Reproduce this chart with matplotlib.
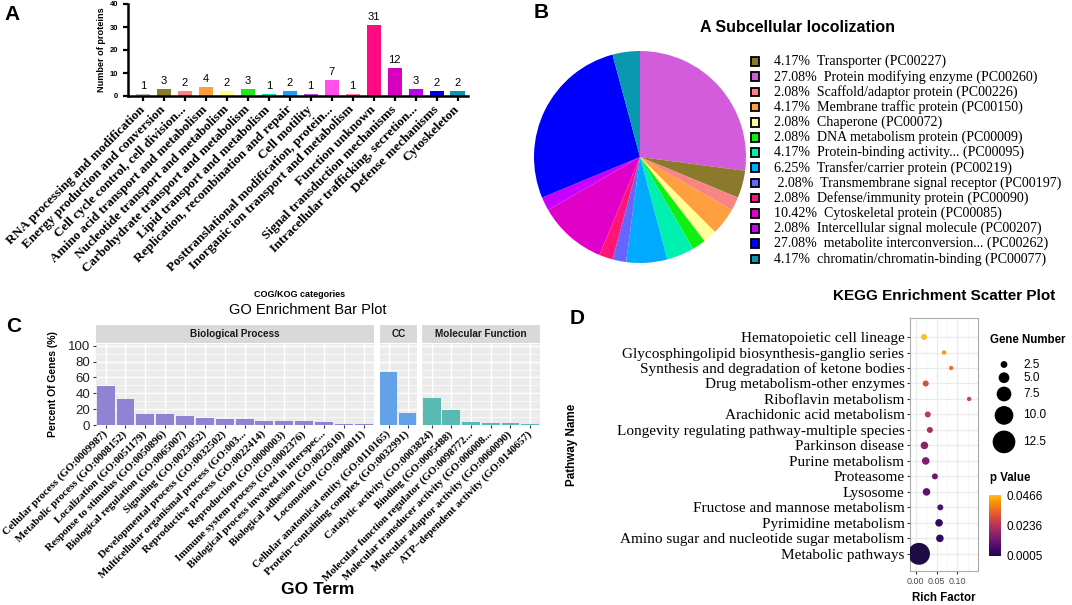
import matplotlib
matplotlib.use("Agg")
import matplotlib.pyplot as plt
import numpy as np
from matplotlib.patches import Rectangle
from matplotlib.colors import ListedColormap, Normalize
from matplotlib.cm import ScalarMappable

SANS = "Liberation Sans"
SERIF = "Liberation Serif"

# ---- panel A: COG/KOG categories ----
cog_names = ["RNA processing and modification", "Energy production and conversion",
             "Cell cycle control, cell division...", "Amino acid transport and metabolism",
             "Nucleotide transport and metabolism", "Carbohydrate transport and metabolism",
             "Lipid transport and metabolism", "Replication, recombination and repair",
             "Cell motility", "Posttranslational modification, protein...",
             "Inorganic ion transport and metabolism", "Function unknown",
             "Signal transduction mechanisms", "Intracellular trafficking, secretion...",
             "Defense mechanisms", "Cytoskeleton"]
cog_counts = [1, 3, 2, 4, 2, 3, 1, 2, 1, 7, 1, 31, 12, 3, 2, 2]
cog_colors = ["#B4B4B4", "#8C7A2C", "#F88484", "#FFA040", "#FFFF90", "#20E820",
              "#00E8A8", "#1AA0F8", "#B848D8", "#FF50E8", "#FF8090", "#FF0A80",
              "#D800C0", "#C000F0", "#0000E8", "#0898B0"]

# ---- panel B: protein classes (legend order) ----
pc_names = ["Transporter (PC00227)", "Protein modifying enzyme (PC00260)",
            "Scaffold/adaptor protein (PC00226)", "Membrane traffic protein (PC00150)",
            "Chaperone (PC00072)", "DNA metabolism protein (PC00009)",
            "Protein-binding activity... (PC00095)", "Transfer/carrier protein (PC00219)",
            "Transmembrane signal receptor (PC00197)", "Defense/immunity protein (PC00090)",
            "Cytoskeletal protein (PC00085)", "Intercellular signal molecule (PC00207)",
            "metabolite interconversion... (PC00262)", "chromatin/chromatin-binding (PC00077)"]
pc_pct = [4.17, 27.08, 2.08, 4.17, 2.08, 2.08, 4.17, 6.25, 2.08, 2.08, 10.42, 2.08, 27.08, 4.17]
pc_colors = ["#8C7A2C", "#D25CDC", "#F88484", "#FFA040", "#FFFF99", "#10F010", "#00F0B0",
             "#00AAFF", "#6666FF", "#FF1478", "#E000C8", "#C800FF", "#0000FF", "#0898B0"]
pie_order = [1, 0, 2, 3, 4, 5, 6, 7, 8, 9, 10, 11, 12, 13]

# ---- panel C: GO enrichment ----
bp_terms = ["Cellular process (GO:0009987)", "Metabolic process (GO:0008152)",
            "Localization (GO:0051179)", "Response to stimulus (GO:0050896)",
            "Biological regulation (GO:0065007)", "Signaling (GO:0023052)",
            "Developmental process (GO:0032502)", "Multicellular organismal process (GO:003...",
            "Reproductive process (GO:0022414)", "Reproduction (GO:0000003)",
            "Immune system process (GO:0002376)", "Biological process involved in interspec...",
            "Biological adhesion (GO:0022610)", "Locomotion (GO:0040011)"]
bp_pct = [49, 32.5, 14, 14, 11, 8.5, 7, 7, 5.5, 5.5, 5.5, 4, 1.5, 1.5]
cc_terms = ["Cellular anatomical entity (GO:0110165)", "Protein\u2212containing complex (GO:0032991)"]
cc_pct = [67.5, 15.5]
mf_terms = ["Catalytic activity (GO:0003824)", "Binding (GO:0005488)",
            "Molecular function regulator (GO:0098772...", "Molecular transducer activity (GO:006008...",
            "Molecular adaptor activity (GO:0060090)", "ATP\u2212dependent activity (GO:0140657)"]
mf_pct = [33.5, 19.5, 4, 2.5, 2.5, 1.5]

# ---- panel D: KEGG enrichment ----
kegg_names = ["Hematopoietic cell lineage", "Glycosphingolipid biosynthesis-ganglio series",
              "Synthesis and degradation of ketone bodies", "Drug metabolism-other enzymes",
              "Riboflavin metabolism", "Arachidonic acid metabolism",
              "Longevity regulating pathway-multiple species", "Parkinson disease",
              "Purine metabolism", "Proteasome", "Lysosome", "Fructose and mannose metabolism",
              "Pyrimidine metabolism", "Amino sugar and nucleotide sugar metabolism",
              "Metabolic pathways"]
rich_factor = [0.020, 0.068, 0.085, 0.024, 0.128, 0.029, 0.034, 0.021, 0.024, 0.046,
               0.026, 0.059, 0.056, 0.058, 0.008]
gene_number = [2, 1, 1, 2, 1, 2, 2, 3, 3, 2, 3, 2, 3, 3, 12]
p_value = [0.0466, 0.042, 0.036, 0.030, 0.028, 0.025, 0.022, 0.017, 0.015, 0.012,
           0.010, 0.008, 0.004, 0.003, 0.0005]
size_breaks = [2.5, 5.0, 7.5, 10.0, 12.5]

W, H = 1072, 605
fig = plt.figure(figsize=(W / 100, H / 100), dpi=100)


def box(l, t, r, b):
    return [l / W, 1 - b / H, (r - l) / W, (b - t) / H]


def ftext(x, y, s, **kw):
    return fig.text(x / W, 1 - y / H, s, **kw)


# ================= A =================
axA = fig.add_axes(box(128, 4, 468, 96))
xa = np.arange(len(cog_names))
axA.bar(xa, cog_counts, width=0.67, color=cog_colors)
for xi, v in zip(xa, cog_counts):
    axA.text(xi, v + 1.3, str(v), ha="center", va="bottom", fontsize=8, family=SANS)
axA.set_xlim(-0.71, 15.5)
axA.set_ylim(0, 40)
axA.spines[["top", "right"]].set_visible(False)
axA.spines[["left", "bottom"]].set_linewidth(1.8)
axA.set_yticks([0, 10, 20, 30, 40])
axA.set_yticklabels(["0", "10", "20", "30", "40"], fontsize=5.5, fontweight="bold", family=SANS)
axA.set_xticks(xa)
axA.set_xticklabels(cog_names, rotation=45, ha="right", va="center", rotation_mode="anchor",
                    fontsize=9.5, fontweight="bold", family=SERIF)
axA.tick_params(width=1.6, length=3.5)
axA.tick_params(axis="x", pad=5)
axA.set_ylabel("Number of proteins", fontsize=6.6, fontweight="bold", family=SANS, labelpad=3)
ftext(300, 295, "COG/KOG categories", ha="center", va="center", fontsize=6.5,
      fontweight="bold", family=SANS)
ftext(4, 14, "A", ha="left", va="center", fontsize=15, fontweight="bold", family=SANS)

# ================= B =================
axB = fig.add_axes(box(534, 51, 746, 263))
axB.pie([pc_pct[i] for i in pie_order], colors=[pc_colors[i] for i in pie_order],
        startangle=90, counterclock=False, radius=1, wedgeprops=dict(linewidth=0))
axB.set_xlim(-1, 1)
axB.set_ylim(-1, 1)
axB.set_aspect("equal")
for i, (name, pct, col) in enumerate(zip(pc_names, pc_pct, pc_colors)):
    yy = 61.5 + i * 15.18
    fig.add_artist(Rectangle((750.7 / W, 1 - (yy + 4.3) / H), 8.6 / W, 8.6 / H,
                             transform=fig.transFigure, facecolor=col, edgecolor="black", lw=1.3))
    lead = " " if name.startswith("Transmembrane") else ""
    ftext(773.7, yy, f"{lead}{pct:.2f}%  {name}", ha="left", va="center", fontsize=10.1, family=SERIF)
ftext(797, 28, "A Subcellular locolization", ha="center", va="center", fontsize=11.5,
      fontweight="bold", family=SANS)
ftext(534, 12, "B", ha="left", va="center", fontsize=15, fontweight="bold", family=SANS)

# ================= C =================
facets = [("Biological Process", bp_terms, bp_pct, "#9183D4", 95.7, 373.6),
          ("CC", cc_terms, cc_pct, "#64A2E8", 379.5, 417.0),
          ("Molecular Function", mf_terms, mf_pct, "#58BAB2", 421.8, 540.0)]
for k, (strip, terms, vals, col, l, r) in enumerate(facets):
    ax = fig.add_axes(box(l, 344, r, 425))
    ax.set_facecolor("#EBEBEB")
    xs = np.arange(len(terms))
    ax.bar(xs, vals, width=0.9, color=col, zorder=3)
    ax.set_xlim(-0.5, len(terms) - 0.5)
    ax.set_ylim(0, 102.3)
    ax.set_yticks([0, 20, 40, 60, 80, 100])
    ax.set_yticks([10, 30, 50, 70, 90], minor=True)
    ax.set_axisbelow(True)
    ax.grid(which="major", color="white", lw=1.0)
    ax.grid(which="minor", axis="y", color="white", lw=0.5)
    for sp in ax.spines.values():
        sp.set_visible(False)
    ax.set_xticks(xs)
    ax.set_xticklabels(terms, rotation=45, ha="right", va="center", rotation_mode="anchor",
                       fontsize=7.8, fontweight="bold", family=SERIF)
    ax.tick_params(axis="x", length=2.5, color="#333333", pad=3)
    ax.tick_params(axis="y", which="minor", length=0)
    if k == 0:
        ax.tick_params(axis="y", length=2.5, color="#333333", labelsize=9.5, pad=1.5)
        for t in ax.get_yticklabels():
            t.set_family(SANS)
            t.set_color("#222222")
    else:
        ax.tick_params(axis="y", length=0, labelleft=False)
    sax = fig.add_axes(box(l, 325, r, 343))
    sax.set_facecolor("#D9D9D9")
    sax.set_xticks([])
    sax.set_yticks([])
    for sp in sax.spines.values():
        sp.set_visible(False)
    sax.text(0.5, 0.5, strip, transform=sax.transAxes, ha="center", va="center",
             fontsize=7.2, fontweight="bold", family=SANS, color="#1A1A1A")
ftext(308, 309.5, "GO Enrichment Bar Plot", ha="center", va="center", fontsize=10.5, family=SANS)
ftext(53, 384, "Percent Of Genes (%)", ha="center", va="center", rotation=90, fontsize=7.5,
      fontweight="bold", family=SANS)
ftext(318, 590, "GO Term", ha="center", va="center", fontsize=12.5, fontweight="bold", family=SANS)
ftext(6, 326, "C", ha="left", va="center", fontsize=15, fontweight="bold", family=SANS)

# ================= D =================
cmap = ListedColormap(plt.get_cmap("inferno")(np.linspace(0.12, 0.85, 256)))
norm = Normalize(vmin=0.0005, vmax=0.0466)


def point_size(v):
    d_px = 2.8 + 1.59 * np.asarray(v, dtype=float)
    return (d_px * 0.72) ** 2


axD = fig.add_axes(box(910, 318, 977.7, 571))
yd = np.arange(len(kegg_names))[::-1]
axD.scatter(rich_factor, yd, s=point_size(gene_number), c=p_value, cmap=cmap, norm=norm,
            edgecolors="none", zorder=3)
axD.set_xlim(-0.0136, 0.1486)
axD.set_ylim(-1.11, 15.23)
axD.set_xticks([0.0, 0.05, 0.10])
axD.set_xticklabels(["0.00", "0.05", "0.10"], fontsize=6.5, family=SANS, color="#4D4D4D")
axD.set_xticks([0.025, 0.075, 0.125], minor=True)
axD.set_yticks(yd)
axD.set_yticklabels(kegg_names, fontsize=11, family=SERIF)
axD.set_axisbelow(True)
axD.grid(which="major", color="#EBEBEB", lw=0.9)
axD.grid(which="minor", axis="x", color="#F2F2F2", lw=0.5)
for sp in axD.spines.values():
    sp.set_color("#AAAAAA")
    sp.set_linewidth(0.8)
axD.tick_params(length=2.5, color="#333333", pad=1.5)
axD.tick_params(which="minor", length=0)
ftext(944, 296, "KEGG Enrichment Scatter Plot", ha="center", va="center", fontsize=11,
      fontweight="bold", family=SANS)
ftext(572, 445, "Pathway Name", ha="center", va="center", rotation=90, fontsize=8.4,
      fontweight="bold", family=SANS)
ftext(944, 598, "Rich Factor", ha="center", va="center", fontsize=8.3, fontweight="bold", family=SANS)
ftext(577, 318, "D", ha="center", va="center", fontsize=15, fontweight="bold", family=SANS)

# size legend
ftext(989.6, 340, "Gene Number", ha="left", va="center", fontsize=8.3, fontweight="bold", family=SANS)
lax = fig.add_axes(box(985, 350, 1065, 455))
lax.set_xlim(0, 80)
lax.set_ylim(105, 0)
lax.axis("off")
leg_y = [14.5, 27.7, 44.0, 65.4, 91.9]
lax.scatter([19] * len(size_breaks), leg_y, s=point_size(size_breaks), color="black",
            edgecolors="none")
for yy, v in zip(leg_y, size_breaks):
    lax.text(38.5, yy, f"{v:.1f}", ha="left", va="center", fontsize=8.5, family=SANS)

# colour bar
ftext(989.6, 477.5, "p Value", ha="left", va="center", fontsize=8.3, fontweight="bold", family=SANS)
cax = fig.add_axes(box(989, 495, 1001.5, 555.5))
cb = fig.colorbar(ScalarMappable(norm=norm, cmap=cmap), cax=cax)
cb.outline.set_visible(False)
cb.set_ticks([0.0005, 0.0236, 0.0466])
cb.set_ticklabels(["0.0005", "0.0236", "0.0466"])
cax.tick_params(length=0, labelsize=8.5, pad=3.5)
for t in cax.get_yticklabels():
    t.set_family(SANS)

fig.savefig("out.png", dpi=100)
